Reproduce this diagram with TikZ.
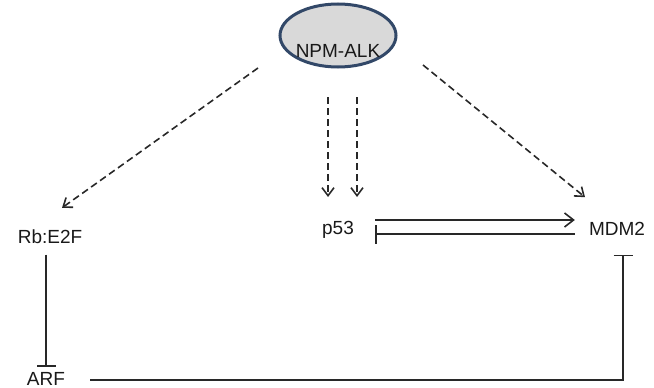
\documentclass[tikz,border=0pt]{standalone}
\usepackage{fontspec}
\setmainfont{Liberation Sans}
\usetikzlibrary{arrows.meta,shapes.geometric}

\definecolor{alkedge}{RGB}{50,72,104}
\definecolor{alkfill}{RGB}{217,217,217}
\definecolor{linegray}{RGB}{40,40,40}

\tikzset{
  gene/.style={inner sep=0pt, text=black!90, font=\fontsize{19}{22}\selectfont},
  alkbox/.style={ellipse, draw=alkedge, fill=alkfill, line width=3pt, minimum width=116pt, minimum height=63pt},
  act/.style={-{Straight Barb[length=9pt,width=14pt]}, line width=1.6pt, draw=linegray},
  dashact/.style={-{Straight Barb[length=8pt,width=12pt]}, line width=1.6pt, draw=linegray, dash pattern=on 7pt off 4pt},
  inhib/.style={-{Bar[width=19pt]}, line width=1.6pt, draw=linegray}
}

\begin{document}
\begin{tikzpicture}[x=1pt,y=-1pt]
  \useasboundingbox (0,0) rectangle (654,388);
  % \draw[step=50,gray!30,very thin] (0,0) grid (654,388);

  \node[alkbox] (alk) at (338,35.5) {};
  \node[gene] (alktext) at (338,51) {NPM-ALK};

  \node[gene] (rb)  at (50,236.5) {Rb:E2F};
  \node[gene] (p53) at (338,230)  {p53};
  \node[gene] (mdm) at (617,229)  {MDM2};
  \node[gene] (arf) at (46,378.5) {ARF};

  \coordinate (l0) at (258,68);
  \coordinate (r0) at (423,65);
  \coordinate (m1) at (328,97);
  \coordinate (m2) at (357,97);

  \draw[dashact] (l0) -- ([shift={(12,-21.5)}]rb.north);
  \draw[dashact] (r0) -- ([shift={(-32,-25)}]mdm.north);
  \draw[dashact] (m1) -- (m1 |- 0,197);
  \draw[dashact] (m2) -- (m2 |- 0,197);

  \draw[act]   ([shift={(21,-10)}]p53.east) -- ([shift={(-14,-9)}]mdm.west);
  \draw[inhib] ([shift={(-14,5)}]mdm.west)  -- ([shift={(21,4)}]p53.east);

  \draw[inhib, shorten <=11pt, shorten >=5pt] (arf.north |- rb.south) -- (arf.north);

  \coordinate (mdmdown) at ([xshift=6pt]mdm.south);
  \draw[inhib, shorten <=25pt, shorten >=19pt] ([yshift=-1.5pt]arf.east) -- ([yshift=-1.5pt]arf.east -| mdmdown) -- (mdmdown);
\end{tikzpicture}
\end{document}
